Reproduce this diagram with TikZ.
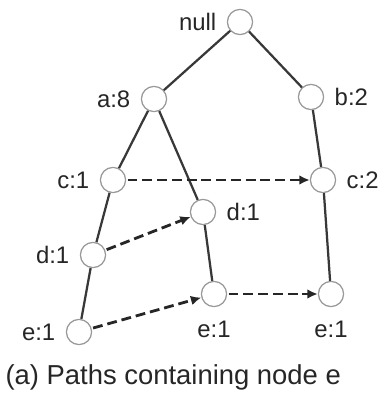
\documentclass[tikz,border=0pt]{standalone}
\usepackage{fontspec}
\setmainfont{Liberation Sans}
\usepackage{tikz}
\usetikzlibrary{arrows.meta}

\begin{document}
\begin{tikzpicture}[
  >=Latex, x=1cm, y=1cm, font=\fontsize{17}{19}\selectfont,
  pnode/.style={circle, draw=black!40, line width=0.9pt, fill=white,
                minimum size=6.3mm, inner sep=0pt},
  lbl/.style={inner sep=1pt, text=black!85},
  edge/.style={line width=1.6pt, draw=black!78},
  link/.style={-{Latex[length=2.6mm,width=2.4mm]}, line width=2pt, draw=black!85,
               dash pattern=on 7pt off 3.5pt, shorten <=1pt},
  every label/.style={lbl}, label distance=0.22cm]

  \useasboundingbox (0,0) rectangle (9.625,9.925);

  % ---------- tree ----------
  \node[pnode,label=left:null] (root) at (6.0,9.375) {};
  \node[pnode,label=left:a:8]  (a)  at (3.85,7.45) {};
  \node[pnode,label=right:b:2] (b)  at (7.775,7.5) {};
  \node[pnode,label=left:c:1]  (ca) at (2.825,5.425) {};
  \node[pnode,label=right:c:2] (cb) at (8.075,5.425) {};
  \node[pnode,label=right:d:1] (db) at (5.075,4.625) {};
  \node[pnode,label=left:d:1]  (da) at (2.325,3.55) {};
  \node[pnode,label={[label distance=0.3cm]below:e:1}] (eb) at (5.35,2.575) {};
  \node[pnode,label={[label distance=0.3cm]below:e:1}] (ec) at (8.275,2.575) {};
  \node[pnode,label=left:e:1]  (ea) at (1.975,1.625) {};

  \draw[edge] (root) -- (a);
  \draw[edge] (root) -- (b);
  \draw[edge] (a) -- (ca);
  \draw[edge] (a) -- (db);
  \draw[edge] (b) -- (cb);
  \draw[edge] (ca) -- (da);
  \draw[edge] (da) -- (ea);
  \draw[edge] (db) -- (eb);
  \draw[edge] (cb) -- (ec);

  % node links between same items
  \draw[link] (ca) -- (cb);
  \draw[link] (da) -- (db);
  \draw[link] (ea) -- (eb);
  \draw[link] (eb) -- (ec);

  % caption
  \node[lbl,font=\fontsize{19.5}{21}\selectfont] (cap) at (4.33,0.5) {(a) Paths containing node e};

\end{tikzpicture}
\end{document}
